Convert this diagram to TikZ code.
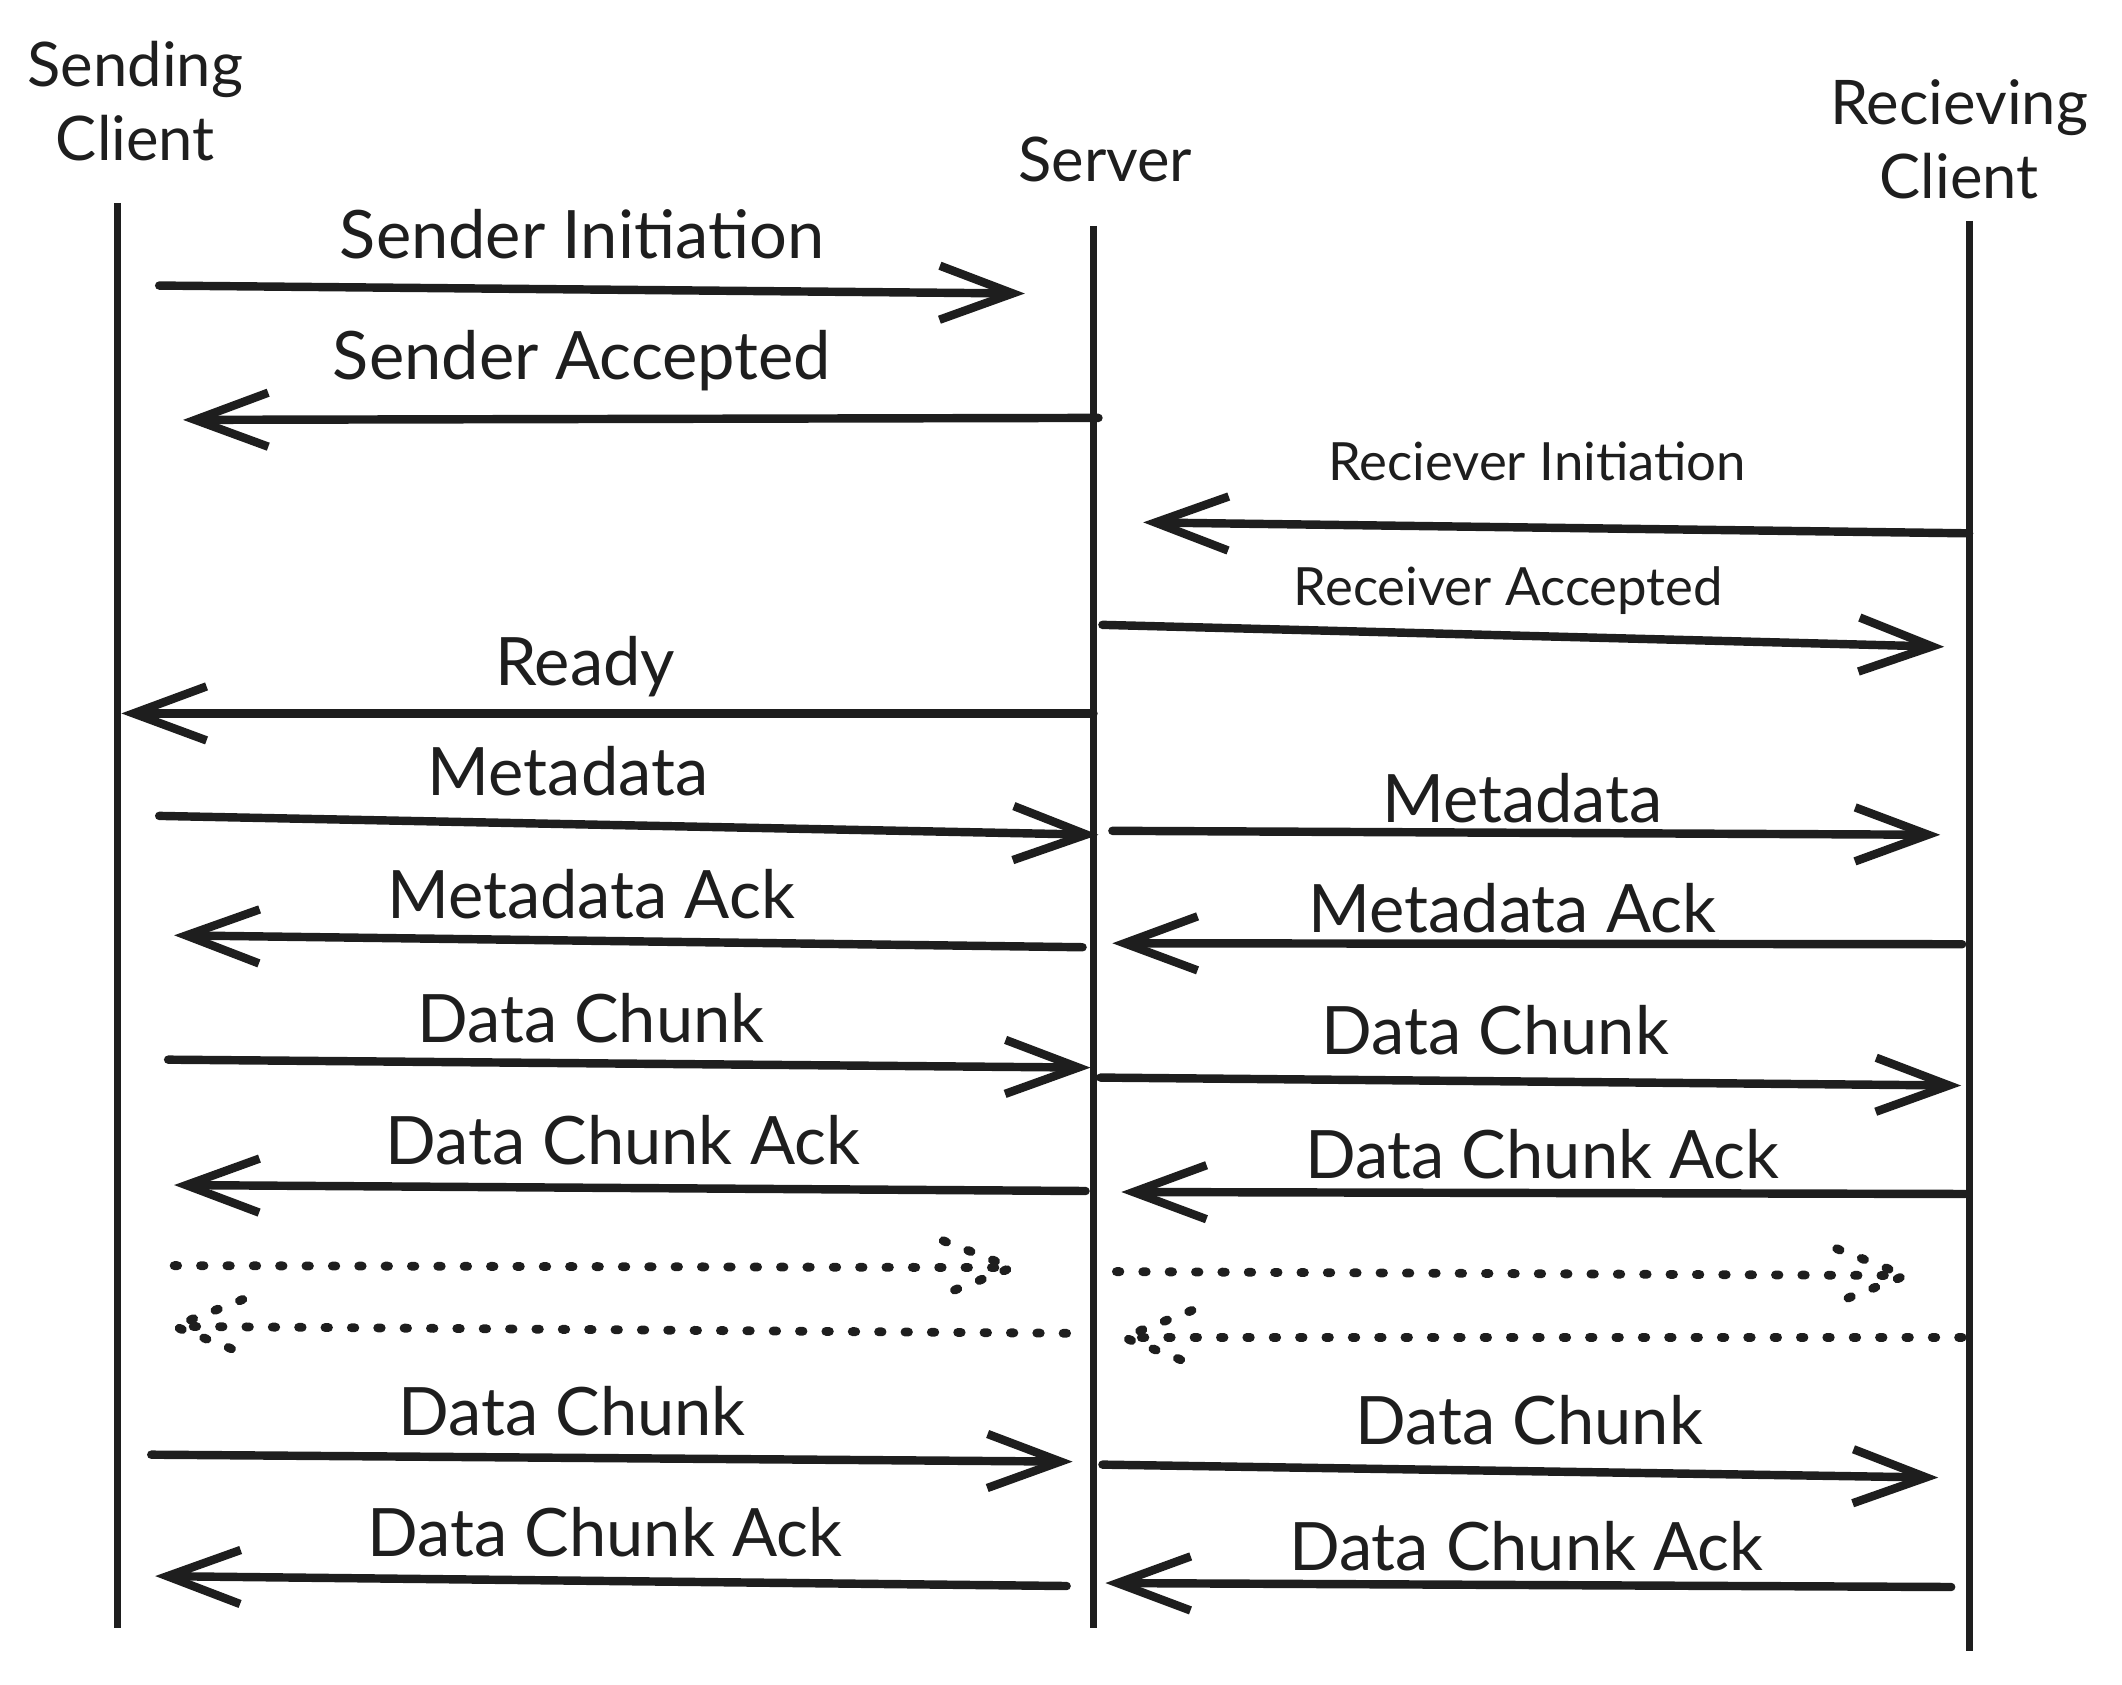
\documentclass[tikz,border=0pt]{standalone}
\usepackage{fontspec}
\setmainfont{Lato}
\usetikzlibrary{arrows.meta,calc}
\definecolor{ink}{HTML}{1E1E1E}
\begin{document}
\begin{tikzpicture}[x=.00995cm,y=-.00995cm,line join=round,
  life/.style={draw=ink,line width=2pt},
  msg/.style={draw=ink,line width=2.4pt,line cap=round,-{Straight Barb[length=7.3mm,width=5.4mm]}},
  dots/.style={draw=ink,line width=2.5pt,line cap=round,dash pattern=on 1pt off 6.5pt},
  lbl/.style={font=\fontsize{19}{22}\selectfont,text=ink,inner sep=1pt},
  sml/.style={font=\fontsize{15}{18}\selectfont,text=ink,inner sep=1pt},
  head/.style={font=\fontsize{17.5}{21}\selectfont,text=ink,align=center,inner sep=1pt}]
  \useasboundingbox (0,0) rectangle (2132.7,1692.5);
  % lifelines
  \node[head] (sendhd) at (136,102) {Sending\\Client};
  \node[head] (servhd) at (1111,160) {Server};
  \node[head] (recvhd) at (1969,140) {Recieving\\Client};
  \coordinate (sendtop) at (118,204);  \coordinate (sendbot) at (118,1636);
  \coordinate (servtop) at (1099,227); \coordinate (servbot) at (1099,1636);
  \coordinate (recvtop) at (1979,222); \coordinate (recvbot) at (1979,1659);
  \draw[life] (sendtop) -- (sendbot);
  \draw[life] (servtop) -- (servbot);
  \draw[life] (recvtop) -- (recvbot);
  % handshake
  \coordinate (m1a) at (160,287);  \coordinate (m1b) at (1030,295);
  \coordinate (m2a) at (1104,420); \coordinate (m2b) at (184,422);
  \coordinate (m3a) at (1979,536); \coordinate (m3b) at (1149,525);
  \coordinate (m4a) at (1108,628); \coordinate (m4b) at (1954,650);
  \coordinate (m5a) at (1099,717); \coordinate (m5b) at (122,717);
  \draw[msg] (m1a) -- (m1b);  \node[lbl] (l1) at (585,235) {Sender Initiation};
  \draw[msg] (m2a) -- (m2b);  \node[lbl] (l2) at (585,362) {Sender Accepted};
  \draw[msg] (m3a) -- (m3b);  \node[sml] (l3) at (1545,464) {Reciever Initiation};
  \draw[msg] (m4a) -- (m4b);  \node[sml] (l4) at (1516,594) {Receiver Accepted};
  \draw[msg] (m5a) -- (m5b);  \node[lbl] (l5) at (588,670) {Ready};
  % metadata
  \coordinate (m6a) at (160,820);  \coordinate (m6b) at (1104,839);
  \coordinate (m7a) at (1118,835); \coordinate (m7b) at (1950,839);
  \coordinate (m8a) at (1088,952); \coordinate (m8b) at (175,940);
  \coordinate (m9a) at (1972,949); \coordinate (m9b) at (1118,948);
  \draw[msg] (m6a) -- (m6b);  \node[lbl] (l6) at (571,775) {Metadata};
  \draw[msg] (m7a) -- (m7b);  \node[lbl] (l7) at (1530,802) {Metadata};
  \draw[msg] (m8a) -- (m8b);  \node[lbl] (l8) at (594,899) {Metadata Ack};
  \draw[msg] (m9a) -- (m9b);  \node[lbl] (l9) at (1520,913) {Metadata Ack};
  % first chunk
  \coordinate (m10a) at (169,1065);  \coordinate (m10b) at (1096,1073);
  \coordinate (m11a) at (1106,1083); \coordinate (m11b) at (1971,1091);
  \coordinate (m12a) at (1091,1197); \coordinate (m12b) at (175,1191);
  \coordinate (m13a) at (1975,1200); \coordinate (m13b) at (1127,1198);
  \draw[msg] (m10a) -- (m10b);  \node[lbl] (l10) at (594,1023) {Data Chunk};
  \draw[msg] (m11a) -- (m11b);  \node[lbl] (l11) at (1503,1035) {Data Chunk};
  \draw[msg] (m12a) -- (m12b);  \node[lbl] (l12) at (626,1146) {Data Chunk Ack};
  \draw[msg] (m13a) -- (m13b);  \node[lbl] (l13) at (1550,1160) {Data Chunk Ack};
  % more chunks
  \coordinate (d1a) at (175,1272);  \coordinate (d1b) at (1017,1274);
  \coordinate (d2a) at (1072,1340); \coordinate (d2b) at (175,1333);
  \coordinate (d3a) at (1122,1278); \coordinate (d3b) at (1915,1282);
  \coordinate (d4a) at (1972,1344); \coordinate (d4b) at (1129,1344);
  \draw[dots] (d1a) -- (d1b);  \draw[dots] ($(d1b)+(-69,-27)$) -- (d1b) -- ($(d1b)+(-69,27)$);
  \draw[dots] (d2a) -- (d2b);  \draw[dots] ($(d2b)+(69,-27)$) -- (d2b) -- ($(d2b)+(69,27)$);
  \draw[dots] (d3a) -- (d3b);  \draw[dots] ($(d3b)+(-69,-27)$) -- (d3b) -- ($(d3b)+(-69,27)$);
  \draw[dots] (d4a) -- (d4b);  \draw[dots] ($(d4b)+(69,-27)$) -- (d4b) -- ($(d4b)+(69,27)$);
  % last chunk
  \coordinate (m14a) at (152,1462);  \coordinate (m14b) at (1078,1469);
  \coordinate (m15a) at (1108,1472); \coordinate (m15b) at (1948,1485);
  \coordinate (m16a) at (1072,1594); \coordinate (m16b) at (156,1584);
  \coordinate (m17a) at (1961,1595); \coordinate (m17b) at (1111,1591);
  \draw[msg] (m14a) -- (m14b);  \node[lbl] (l14) at (575,1418) {Data Chunk};
  \draw[msg] (m15a) -- (m15b);  \node[lbl] (l15) at (1537,1427) {Data Chunk};
  \draw[msg] (m16a) -- (m16b);  \node[lbl] (l16) at (608,1540) {Data Chunk Ack};
  \draw[msg] (m17a) -- (m17b);  \node[lbl] (l17) at (1534,1554) {Data Chunk Ack};
\end{tikzpicture}
\end{document}
